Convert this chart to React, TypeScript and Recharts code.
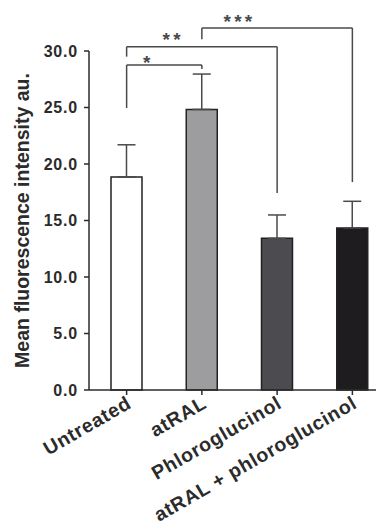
import { BarChart, Bar, XAxis, YAxis, ErrorBar, Cell, ReferenceLine } from 'recharts'

/* ─── data ─── */
const groups = ['Untreated', 'atRAL', 'Phloroglucinol', 'atRAL + phloroglucinol']
const means = [18.85, 24.83, 13.42, 14.34]
const errUp = [2.85, 3.13, 2.07, 2.36]
const fills = ['#ffffff', '#9d9d9f', '#4b4b50', '#1f1c1f']
const yTicks = [0, 5, 10, 15, 20, 25, 30]

// significance brackets: from group, to group, bar height, leg ends, star label
const brFrom = ['Untreated', 'Untreated', 'atRAL']
const brTo = ['atRAL', 'Phloroglucinol', 'atRAL + phloroglucinol']
const brTop = [28.76, 30.38, 32.04]
const brLeftEnd = [24.96, 29.5, 31.04]
const brRightEnd = [28.4, 17.43, 18.4]
const brStars = ['*', '**', '***']

const data = groups.map((name, i) => ({ name, value: means[i], err: [0, errUp[i]] }))

const FONT = '"Liberation Sans", Arial, sans-serif'
const INK = '#2b2b2b'
const LINE = '#4a4a4a'

// star label placement along each bracket (fraction of span, lift above line)
const starFrac = [0.29, 0.31, 0.25]
const starLift = [-4, 1, 0]

const XTick = ({ x, y, payload }: any) => {
  const px = x + 6
  const py = y + 10
  return (
    <text
      x={px} y={py} transform={`rotate(-30 ${px} ${py})`}
      textAnchor="end" fontFamily={FONT} fontWeight="bold"
      fontSize={19.5} letterSpacing={0.7} fill={INK}
    >
      {payload.value}
    </text>
  )
}

const YLabel = ({ viewBox }: any) => {
  const cy = viewBox ? viewBox.y + viewBox.height / 2 : 222
  return (
    <text
      x={22} y={cy} transform={`rotate(-90 22 ${cy})`}
      textAnchor="middle" dominantBaseline="central"
      fontFamily={FONT} fontWeight="bold" fontSize={19.5} fill={INK}
    >
      Mean fluorescence intensity au.
    </text>
  )
}

const starLabel = (i: number) => ({ viewBox }: any) => {
  if (!viewBox) return null
  return (
    <text
      x={viewBox.x + viewBox.width * starFrac[i]} y={viewBox.y - starLift[i]}
      textAnchor="middle" fontFamily={FONT} fontWeight="bold"
      fontSize={19} letterSpacing={3.3} fill={LINE}
    >
      {brStars[i]}
    </text>
  )
}

export default function App() {
  return (
    <div style={{ margin: -8, width: 384, height: 529, overflow: 'hidden', background: '#fff' }}>
      <BarChart
        width={400} height={529} data={data}
        margin={{ top: 51, right: 10, left: 0, bottom: 0 }}
        barCategoryGap={0}
      >
        <XAxis
          dataKey="name" height={139} tick={<XTick />} tickSize={5}
          axisLine={{ stroke: INK, strokeWidth: 1.5 }}
          tickLine={{ stroke: INK, strokeWidth: 1.5 }}
          interval={0}
        />
        <YAxis
          width={89} domain={[0, 30]} ticks={yTicks} interval={0}
          tickFormatter={(v: number) => v.toFixed(1)}
          tickSize={5} tickMargin={6}
          tick={{ fill: INK, fontFamily: FONT, fontWeight: 'bold', fontSize: 16, letterSpacing: 0.8 }}
          axisLine={{ stroke: INK, strokeWidth: 1.5 }}
          tickLine={{ stroke: INK, strokeWidth: 1.5 }}
          label={<YLabel />}
        />
        <Bar dataKey="value" barSize={31} stroke="#222" strokeWidth={1.5} isAnimationActive={false}>
          {data.map((d, i) => (
            <Cell key={d.name} fill={fills[i]} />
          ))}
          <ErrorBar dataKey="err" width={9} stroke={LINE} strokeWidth={1.5} direction="y" />
        </Bar>
        {brFrom.map((from, i) => [
          <ReferenceLine
            key={`l${i}`} ifOverflow="visible" stroke={LINE} strokeWidth={1.5}
            segment={[{ x: from, y: brLeftEnd[i] }, { x: from, y: brTop[i] }]}
          />,
          <ReferenceLine
            key={`t${i}`} ifOverflow="visible" stroke={LINE} strokeWidth={1.5}
            segment={[{ x: from, y: brTop[i] }, { x: brTo[i], y: brTop[i] }]}
            label={starLabel(i)}
          />,
          <ReferenceLine
            key={`r${i}`} ifOverflow="visible" stroke={LINE} strokeWidth={1.5}
            segment={[{ x: brTo[i], y: brTop[i] }, { x: brTo[i], y: brRightEnd[i] }]}
          />,
        ])}
      </BarChart>
    </div>
  )
}
